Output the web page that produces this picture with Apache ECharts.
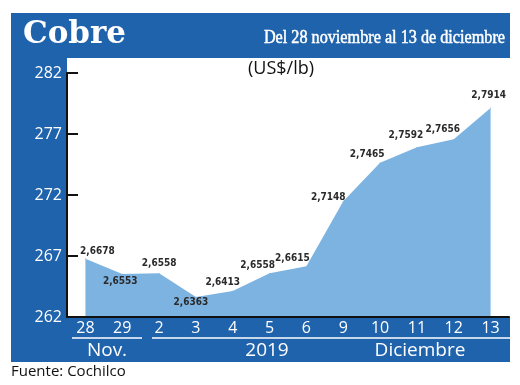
<!DOCTYPE html>
<html>
<head>
<meta charset="utf-8">
<script src="https://cdn.jsdelivr.net/npm/echarts@6/dist/echarts.min.js"></script>
<style>
html,body{margin:0;padding:0;background:#fff;}
#c{width:520px;height:385px;}
</style>
</head>
<body>
<div id="c"></div>
<script>
// ---- data ----
const categories = ['28','29','2','3','4','5','6','9','10','11','12','13'];
const prices = [2.6678, 2.6553, 2.6558, 2.6363, 2.6413, 2.6558, 2.6615, 2.7148, 2.7465, 2.7592, 2.7656, 2.7914];
const yTicks = [262, 267, 272, 277, 282];
const groupLabels = ['Nov.', '2019', 'Diciembre'];
const titleText = 'Cobre';
const subtitleText = 'Del 28 noviembre al 13 de diciembre';
const unitText = '(US$/lb)';
const sourceText = 'Fuente: Cochilco';

// ---- style / layout ----
const BLUE = '#1f63ad';
const AREA = '#7db3e0';
const labelOffsets = [[12,-7],[-2,7],[0,-10],[-5,5],[-10,-9],[-12,-8],[-14,-8],[-15,-4],[-13,-8],[-11,-12],[-11,-10],[-2,-12]];

const seriesData = prices.map((p, i) => ({
  value: +(p * 100).toFixed(2),
  label: { offset: labelOffsets[i] }
}));

const chart = echarts.init(document.getElementById('c'), null, {renderer: 'canvas'});
chart.setOption({
  animation: false,
  backgroundColor: '#fff',
  grid: { left: 67, right: 11, top: 73, bottom: 68, containLabel: false },
  xAxis: {
    type: 'category',
    data: categories,
    boundaryGap: true,
    z: 10,
    axisLine: { lineStyle: { color: '#111', width: 2 } },
    axisTick: { show: false },
    axisLabel: { color: '#fff', fontSize: 16, fontFamily: 'Open Sans', margin: 3, interval: 0 },
    splitLine: { show: false }
  },
  yAxis: {
    type: 'value',
    min: yTicks[0],
    max: yTicks[yTicks.length - 1],
    interval: yTicks[1] - yTicks[0],
    z: 10,
    axisLine: { show: true, lineStyle: { color: '#111', width: 2 } },
    axisTick: { show: true, inside: true, length: 11, lineStyle: { color: '#111', width: 2 } },
    axisLabel: { color: '#fff', fontSize: 16, fontFamily: 'Open Sans', margin: 5 },
    splitLine: { show: false }
  },
  series: [{
    type: 'line',
    data: seriesData,
    z: 5,
    symbol: 'circle',
    symbolSize: 1,
    itemStyle: { color: AREA },
    lineStyle: { width: 0, color: AREA },
    areaStyle: { color: AREA, opacity: 1 },
    label: {
      show: true,
      position: 'inside',
      formatter: (p) => prices[p.dataIndex].toFixed(4).replace('.', ','),
      color: '#2a2a2a',
      fontSize: 10,
      fontWeight: 'bold',
      fontFamily: '"Liberation Sans Narrow", "DejaVu Sans Condensed", sans-serif'
    }
  }],
  graphic: {
    elements: [
      { type: 'rect', z: -10, silent: true, shape: { x: 11, y: 13, width: 499, height: 349 }, style: { fill: BLUE } },
      { type: 'rect', z: -9, silent: true, shape: { x: 67, y: 58, width: 443, height: 259 }, style: { fill: '#fff' } },
      { type: 'text', z: 20, x: 23, y: 35, style: { text: titleText, fill: '#fff', font: 'bold 31px "DejaVu Serif"', textVerticalAlign: 'middle' } },
      { type: 'text', z: 20, x: 505, y: 38, scaleX: 0.9, style: { text: subtitleText, fill: '#fff', stroke: '#fff', lineWidth: 0.5, font: '18px "Liberation Serif"', textAlign: 'right', textVerticalAlign: 'middle' } },
      { type: 'text', z: 20, x: 281, y: 69, style: { text: unitText, fill: '#111', font: '18px "Open Sans"', textAlign: 'center', textVerticalAlign: 'middle' } },
      { type: 'line', z: 20, shape: { x1: 72, y1: 338, x2: 142, y2: 338 }, style: { stroke: '#fff', lineWidth: 1.5 } },
      { type: 'line', z: 20, shape: { x1: 152, y1: 338, x2: 510, y2: 338 }, style: { stroke: '#fff', lineWidth: 1.5 } },
      { type: 'text', z: 20, x: 107, y: 351, style: { text: groupLabels[0], fill: '#fff', font: '19px "Open Sans"', textAlign: 'center', textVerticalAlign: 'middle' } },
      { type: 'text', z: 20, x: 267, y: 351, style: { text: groupLabels[1], fill: '#fff', font: '19px "Open Sans"', textAlign: 'center', textVerticalAlign: 'middle' } },
      { type: 'text', z: 20, x: 420, y: 351, style: { text: groupLabels[2], fill: '#fff', font: '19px "Open Sans"', textAlign: 'center', textVerticalAlign: 'middle' } },
      { type: 'text', z: 20, x: 11, y: 372, style: { text: sourceText, fill: '#111', font: '15px "Open Sans"', textAlign: 'left', textVerticalAlign: 'middle' } }
    ]
  }
});
</script>
</body>
</html>
